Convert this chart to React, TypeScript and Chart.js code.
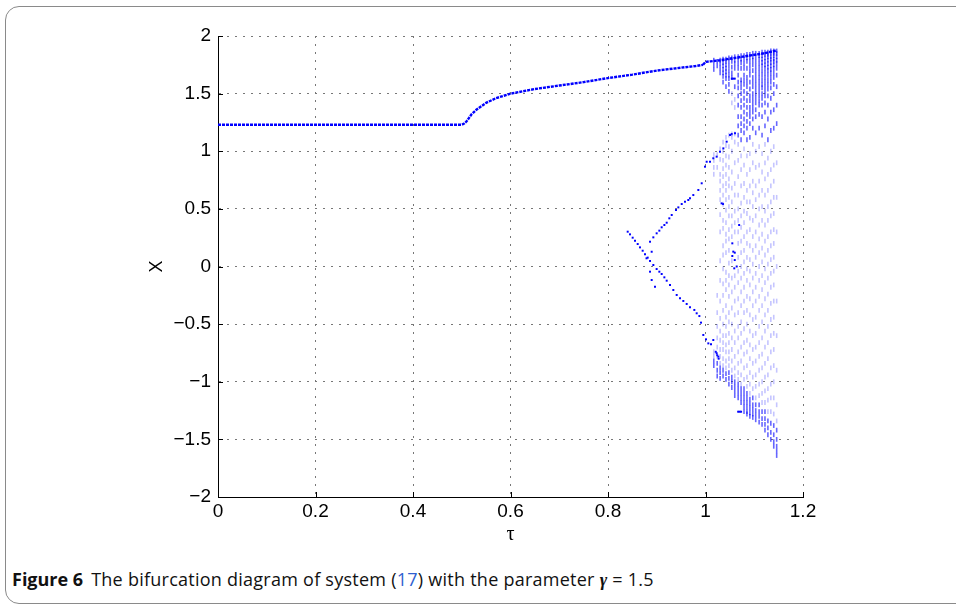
import React, { useEffect, useRef } from "react";
import { Chart, registerables } from "chart.js";
Chart.register(...registerables);

const xTicks = [0, 0.2, 0.4, 0.6, 0.8, 1, 1.2];
const yTicks = [-2, -1.5, -1, -0.5, 0, 0.5, 1, 1.5, 2];

// period-1 branch (vertices of the dotted marker trail)
const branchTau = [0, 0.5, 0.505, 0.51, 0.515, 0.52, 0.53, 0.54, 0.55, 0.57, 0.6, 0.65, 0.7, 0.75, 0.8, 0.85, 0.9, 0.95, 0.98, 0.995];
const branchX = [1.23, 1.23, 1.24, 1.26, 1.29, 1.32, 1.36, 1.39, 1.42, 1.46, 1.5, 1.54, 1.57, 1.6, 1.635, 1.665, 1.7, 1.725, 1.74, 1.75];

// upper envelope of the chaotic band
const topTau = [0.995, 1.0, 1.01, 1.03, 1.06, 1.09, 1.12, 1.146];
const topX = [1.75, 1.775, 1.78, 1.79, 1.81, 1.83, 1.85, 1.875];

// descending period-2 branch
const descTau = [0.8404, 0.8451, 0.8506, 0.8554, 0.8609, 0.8656, 0.8711, 0.8759, 0.8814, 0.8862, 0.893, 0.8998, 0.9053, 0.9101, 0.9156, 0.9204, 0.9272, 0.934, 0.9409, 0.9477, 0.9545, 0.9614, 0.9682, 0.9771, 0.9819, 0.9874, 0.9908, 0.9955, 1.001, 1.0058, 1.0113, 1.016, 1.0229, 1.0263];
const descX = [0.302, 0.279, 0.25, 0.224, 0.195, 0.166, 0.137, 0.106, 0.077, 0.048, 0.013, -0.022, -0.045, -0.065, -0.094, -0.123, -0.161, -0.204, -0.247, -0.276, -0.299, -0.325, -0.354, -0.377, -0.406, -0.43, -0.487, -0.594, -0.632, -0.667, -0.675, -0.638, -0.753, -0.782];

// ascending period-2 branch
const ascTau = [0.8862, 0.893, 0.8998, 0.9053, 0.9101, 0.9156, 0.9204, 0.9258, 0.9307, 0.9395, 0.9443, 0.9512, 0.9579, 0.9647, 0.9682, 0.975, 0.9853, 0.9922, 0.999, 1.0024, 1.0092, 1.016, 1.0229, 1.0297, 1.0366, 1.0434, 1.0503, 1.0537, 1.0605];
const ascX = [0.215, 0.253, 0.288, 0.311, 0.34, 0.36, 0.38, 0.418, 0.447, 0.49, 0.513, 0.542, 0.562, 0.577, 0.592, 0.62, 0.664, 0.722, 0.866, 0.909, 0.909, 0.939, 0.953, 0.996, 1.025, 1.083, 1.141, 1.15, 1.156];

// isolated strong points
const extraTau = [0.879, 0.8896, 0.8862, 0.8896, 0.8964, 1.033, 1.036, 1.055, 1.057, 1.06, 1.055, 1.06, 1.064, 1.059, 1.069, 1.021, 1.024, 1.027, 1.054, 1.057, 1.06, 1.067, 1.07, 1.073];
const extraX = [0.071, 0.128, -0.045, -0.117, -0.175, 0.548, 0.542, 0.201, 0.129, 0.12, 0.091, 0.056, 0.0, -0.016, 0.36, -0.74, -0.77, -0.8, 1.63, 1.63, 1.63, -1.26, -1.26, -1.26];

// chaotic region, one column per parameter value
const chaosTau = [1.017, 1.024, 1.03, 1.036, 1.042, 1.048, 1.054, 1.06, 1.067, 1.073, 1.079, 1.085, 1.091, 1.097, 1.103, 1.11, 1.116, 1.122, 1.128, 1.134, 1.14, 1.146];
const chaosX = [
  [1.79, 1.75, 1.71, 0.97, 0.92, 0.86, 0.8, -0.74, -0.78, -0.82, -0.86],
  [1.78, 1.74, 0.97, 0.86, -0.25, -0.4, -0.52, -0.62, -0.7, -0.78, -0.84, -0.9, -0.95],
  [1.79, 1.76, 1.72, 1.68, 1.02, 0.93, 0.8, 0.74, 0.66, 0.58, 0.45, 0.3, 0.05, -0.12, -0.3, -0.45, -0.56, -0.64, -0.72, -0.78, -0.84, -0.88, -0.92, -0.97],
  [1.8, 1.77, 1.74, 1.71, 1.68, 1.65, 1.6, 1.08, 1.0, 0.92, 0.85, 0.78, 0.7, 0.62, 0.54, 0.4, 0.33, 0.18, 0.1, -0.02, -0.15, -0.25, -0.38, -0.5, -0.6, -0.66, -0.72, -0.8, -0.86, -0.9, -0.95],
  [1.8, 1.78, 1.75, 1.72, 1.69, 1.66, 1.63, 1.56, 1.12, 1.05, 0.96, 0.88, 0.8, 0.72, 0.66, 0.58, 0.49, 0.38, 0.28, 0.22, 0.12, -0.05, -0.12, -0.2, -0.34, -0.44, -0.52, -0.6, -0.68, -0.74, -0.82, -0.88, -0.93, -0.98],
  [1.81, 1.78, 1.74, 1.7, 1.66, 1.63, 1.58, 1.52, 1.14, 1.04, 0.95, 0.86, 0.76, 0.7, 0.6, 0.52, 0.44, 0.32, 0.24, 0.14, 0.03, -0.08, -0.16, -0.26, -0.4, -0.48, -0.58, -0.66, -0.74, -0.8, -0.86, -0.92, -0.97, -1.02],
  [1.81, 1.78, 1.73, 1.68, 1.64, 1.5, 1.42, 1.15, 1.12, 1.0, 0.82, 0.68, 0.56, 0.44, 0.35, 0.26, 0.05, -0.1, -0.22, -0.36, -0.5, -0.62, -0.72, -0.82, -0.9, -0.96, -1.0, -1.05],
  [1.82, 1.79, 1.76, 1.72, 1.56, 1.45, 1.38, 1.15, 1.08, 0.9, 0.72, 0.62, 0.48, 0.38, 0.3, -0.08, -0.18, -0.3, -0.42, -0.56, -0.66, -0.78, -0.88, -0.95, -1.0, -1.04, -1.08, -1.12],
  [1.82, 1.8, 1.76, 1.72, 1.66, 1.6, 1.55, 1.48, 1.4, 1.3, 1.22, 1.14, 1.06, 0.92, 0.78, 0.62, 0.5, 0.4, 0.3, 0.2, 0.08, -0.04, -0.14, -0.28, -0.4, -0.52, -0.62, -0.74, -0.84, -0.92, -0.98, -1.02, -1.06, -1.1, -1.14],
  [1.83, 1.8, 1.77, 1.72, 1.62, 1.59, 1.55, 1.5, 1.44, 1.38, 1.3, 1.24, 1.18, 1.1, 0.96, 0.84, 0.7, 0.55, 0.44, 0.34, 0.22, 0.12, 0.0, -0.1, -0.22, -0.34, -0.48, -0.58, -0.7, -0.82, -0.94, -1.02, -1.06, -1.1, -1.14, -1.18],
  [1.83, 1.8, 1.76, 1.72, 1.66, 1.62, 1.58, 1.52, 1.46, 1.4, 1.34, 1.28, 1.22, 1.16, 1.02, 0.88, 0.72, 0.6, 0.48, 0.38, 0.26, 0.14, 0.04, -0.06, -0.18, -0.3, -0.4, -0.54, -0.66, -0.76, -0.88, -0.98, -1.06, -1.1, -1.14, -1.18, -1.22, -1.26],
  [1.84, 1.81, 1.78, 1.72, 1.64, 1.6, 1.56, 1.5, 1.44, 1.38, 1.32, 1.26, 1.2, 1.1, 0.96, 0.8, 0.66, 0.56, 0.46, 0.3, 0.2, 0.08, -0.02, -0.12, -0.26, -0.38, -0.5, -0.64, -0.74, -0.86, -0.96, -1.04, -1.1, -1.14, -1.18, -1.22, -1.26, -1.28],
  [1.84, 1.82, 1.78, 1.74, 1.7, 1.66, 1.6, 1.54, 1.48, 1.44, 1.38, 1.34, 1.3, 1.24, 1.12, 0.98, 0.84, 0.7, 0.56, 0.42, 0.32, 0.18, 0.06, -0.04, -0.16, -0.28, -0.42, -0.56, -0.68, -0.8, -0.92, -1.02, -1.1, -1.15, -1.19, -1.23, -1.27, -1.3],
  [1.85, 1.82, 1.79, 1.75, 1.7, 1.64, 1.6, 1.56, 1.5, 1.46, 1.42, 1.38, 1.34, 1.28, 1.2, 1.06, 0.9, 0.74, 0.64, 0.52, 0.4, 0.26, 0.14, 0.02, -0.1, -0.22, -0.34, -0.46, -0.6, -0.72, -0.84, -0.96, -1.06, -1.14, -1.2, -1.24, -1.28, -1.31],
  [1.85, 1.82, 1.78, 1.74, 1.7, 1.66, 1.62, 1.58, 1.54, 1.5, 1.46, 1.42, 1.36, 1.3, 1.16, 1.0, 0.86, 0.7, 0.58, 0.44, 0.3, 0.18, 0.08, -0.06, -0.18, -0.3, -0.44, -0.58, -0.7, -0.82, -0.94, -1.04, -1.14, -1.2, -1.25, -1.29, -1.33],
  [1.85, 1.83, 1.8, 1.76, 1.72, 1.68, 1.64, 1.6, 1.56, 1.52, 1.48, 1.44, 1.4, 1.32, 1.2, 1.04, 0.88, 0.74, 0.62, 0.5, 0.36, 0.24, 0.12, 0.0, -0.12, -0.26, -0.38, -0.52, -0.66, -0.78, -0.9, -1.02, -1.12, -1.2, -1.26, -1.3, -1.35],
  [1.86, 1.83, 1.8, 1.77, 1.74, 1.7, 1.66, 1.62, 1.58, 1.55, 1.5, 1.46, 1.4, 1.3, 1.14, 0.98, 0.82, 0.66, 0.52, 0.4, 0.28, 0.16, 0.04, -0.08, -0.2, -0.34, -0.48, -0.62, -0.76, -0.88, -1.0, -1.1, -1.18, -1.26, -1.32, -1.37],
  [1.86, 1.84, 1.81, 1.78, 1.75, 1.72, 1.68, 1.64, 1.6, 1.56, 1.52, 1.48, 1.42, 1.34, 1.22, 1.06, 0.9, 0.76, 0.62, 0.48, 0.36, 0.22, 0.1, -0.02, -0.14, -0.28, -0.42, -0.56, -0.7, -0.84, -0.96, -1.08, -1.18, -1.26, -1.32, -1.37, -1.42],
  [1.86, 1.84, 1.82, 1.79, 1.76, 1.73, 1.7, 1.66, 1.62, 1.58, 1.54, 1.48, 1.4, 1.28, 1.1, 0.94, 0.8, 0.66, 0.52, 0.4, 0.26, 0.14, 0.02, -0.1, -0.24, -0.38, -0.52, -0.66, -0.8, -0.94, -1.06, -1.16, -1.26, -1.34, -1.4, -1.46],
  [1.87, 1.85, 1.82, 1.8, 1.77, 1.74, 1.71, 1.68, 1.64, 1.6, 1.55, 1.46, 1.34, 1.18, 1.0, 0.84, 0.7, 0.56, 0.44, 0.3, 0.18, 0.06, -0.06, -0.18, -0.32, -0.46, -0.6, -0.74, -0.88, -1.02, -1.14, -1.26, -1.36, -1.44, -1.5],
  [1.87, 1.85, 1.83, 1.8, 1.78, 1.75, 1.72, 1.68, 1.64, 1.58, 1.5, 1.36, 1.2, 1.04, 0.88, 0.74, 0.6, 0.46, 0.32, 0.2, 0.08, -0.04, -0.16, -0.3, -0.44, -0.58, -0.72, -0.86, -1.0, -1.14, -1.28, -1.38, -1.46, -1.52, -1.56],
  [1.87, 1.85, 1.82, 1.79, 1.76, 1.72, 1.66, 1.56, 1.4, 1.24, 0.9, 0.6, 0.3, 0.0, -0.3, -0.6, -0.9, -1.2, -1.34, -1.42, -1.5, -1.56, -1.6, -1.64],
];

const BLUE = "#0000ff";
const fmt = (v: number) => {
  const r = Math.round(v * 10) / 10;
  return (r < 0 ? "\u2212" : "") + String(Math.abs(r));
};

// styling only: the upper cone and the lower edge of the attractor are drawn denser
const isDense = (t: number, v: number) =>
  v > 1.5 || (t > 1.062 && v > 1.08) || v < -0.84 - (t - 1.03) * 4.4;

const innerTicks = {
  id: "innerTicks",
  afterDatasetsDraw(chart: any) {
    const { ctx, chartArea, scales } = chart;
    const { left, bottom } = chartArea;
    ctx.save();
    ctx.strokeStyle = "#000";
    ctx.lineWidth = 1;
    xTicks.forEach((v) => {
      const px = Math.round(scales.x.getPixelForValue(v)) + 0.5;
      ctx.beginPath();
      ctx.moveTo(px, bottom);
      ctx.lineTo(px, bottom - 5);
      ctx.stroke();
    });
    yTicks.forEach((v) => {
      const py = Math.round(scales.y.getPixelForValue(v)) + 0.5;
      ctx.beginPath();
      ctx.moveTo(left, py);
      ctx.lineTo(left + 5, py);
      ctx.stroke();
    });
    ctx.restore();
  },
};

export default function App() {
  const ref = useRef<HTMLCanvasElement | null>(null);
  useEffect(() => {
    if (!ref.current) return;
    const pts = (t: number[], v: number[]) => t.map((x, i) => ({ x, y: v[i] }));
    const chaos = chaosTau.flatMap((t, i) => chaosX[i].map((v) => ({ x: t, y: v })));
    const chart = new Chart(ref.current, {
      type: "scatter",
      data: {
        datasets: [
          {
            data: chaos,
            pointStyle: "line",
            rotation: 90,
            pointRadius: 2.4,
            borderWidth: 1.6,
            borderColor: (c: any) =>
              c.raw && isDense(c.raw.x, c.raw.y) ? "rgba(0,0,255,0.6)" : "rgba(40,40,255,0.27)",
            backgroundColor: "rgba(0,0,255,0.4)",
          } as any,
          {
            data: pts(branchTau, branchX),
            showLine: true,
            pointRadius: 0,
            borderColor: BLUE,
            borderWidth: 2.4,
            borderDash: [3, 1],
          } as any,
          {
            data: pts(topTau, topX),
            showLine: true,
            pointRadius: 0,
            borderColor: BLUE,
            borderWidth: 2.4,
            borderDash: [3, 1],
          } as any,
          {
            data: [...pts(descTau, descX), ...pts(ascTau, ascX), ...pts(extraTau, extraX)],
            pointStyle: "rect",
            pointRadius: 1.4,
            backgroundColor: BLUE,
            borderWidth: 0,
          } as any,
        ],
      },
      options: {
        animation: false,
        responsive: false,
        devicePixelRatio: 1,
        layout: { padding: { left: 146, right: 153, top: 36, bottom: 13 } },
        plugins: { legend: { display: false }, tooltip: { enabled: false } },
        scales: {
          x: {
            type: "linear",
            min: 0,
            max: 1.2,
            afterBuildTicks: (s: any) => {
              s.ticks = xTicks.map((value) => ({ value }));
            },
            afterFit: (s: any) => {
              s.height = 50;
            },
            ticks: {
              callback: (v: any) => fmt(Number(v)),
              font: { family: "Liberation Sans", size: 19 },
              color: "#000",
              padding: 3,
              maxRotation: 0,
            },
            grid: { color: "#777", lineWidth: 1, drawTicks: false },
            border: { display: true, color: "#000", width: 1, dash: [2, 6] },
            title: {
              display: true,
              text: "\u03c4",
              font: { family: "Liberation Serif", size: 20 },
              color: "#000",
              padding: { top: 0, bottom: 0 },
            },
          },
          y: {
            type: "linear",
            min: -2,
            max: 2,
            afterBuildTicks: (s: any) => {
              s.ticks = yTicks.map((value) => ({ value }));
            },
            afterFit: (s: any) => {
              s.width = 72;
            },
            ticks: {
              callback: (v: any) => fmt(Number(v)),
              font: { family: "Liberation Sans", size: 19 },
              color: "#000",
              padding: 7,
            },
            grid: { color: "#777", lineWidth: 1, drawTicks: false },
            border: { display: true, color: "#000", width: 1, dash: [2, 6] },
            title: {
              display: true,
              text: "X",
              font: { family: "Liberation Sans", size: 18 },
              color: "#000",
              padding: { top: 0, bottom: 0 },
            },
          },
        },
      },
      plugins: [innerTicks],
    });
    return () => chart.destroy();
  }, []);

  return (
    <div style={{ position: "absolute", left: 0, top: 0, width: 956, height: 608, overflow: "hidden", background: "#fff" }}>
      <div
        style={{
          position: "absolute",
          left: 5,
          top: 6,
          width: 1000,
          height: 598,
          border: "1px solid #8a8a8a",
          borderRadius: 14,
          boxSizing: "border-box",
        }}
      />
      <canvas ref={ref} width={956} height={560} style={{ position: "absolute", left: 0, top: 0, width: 956, height: 560 }} />
      <div
        style={{
          position: "absolute",
          left: 12,
          top: 567,
          fontFamily: "'Open Sans', sans-serif",
          fontSize: 18,
          lineHeight: "24px",
          color: "#111",
          whiteSpace: "nowrap",
        }}
      >
        <span style={{ fontWeight: 700 }}>Figure 6</span>
        <span style={{ marginLeft: 8, letterSpacing: 0.25 }}>
          The bifurcation diagram of system (<span style={{ color: "#2f5fd0" }}>17</span>) with the parameter{" "}
          <span style={{ fontFamily: "'Liberation Serif', serif", fontStyle: "italic", fontWeight: 700 }}>γ</span> = 1.5
        </span>
      </div>
    </div>
  );
}
